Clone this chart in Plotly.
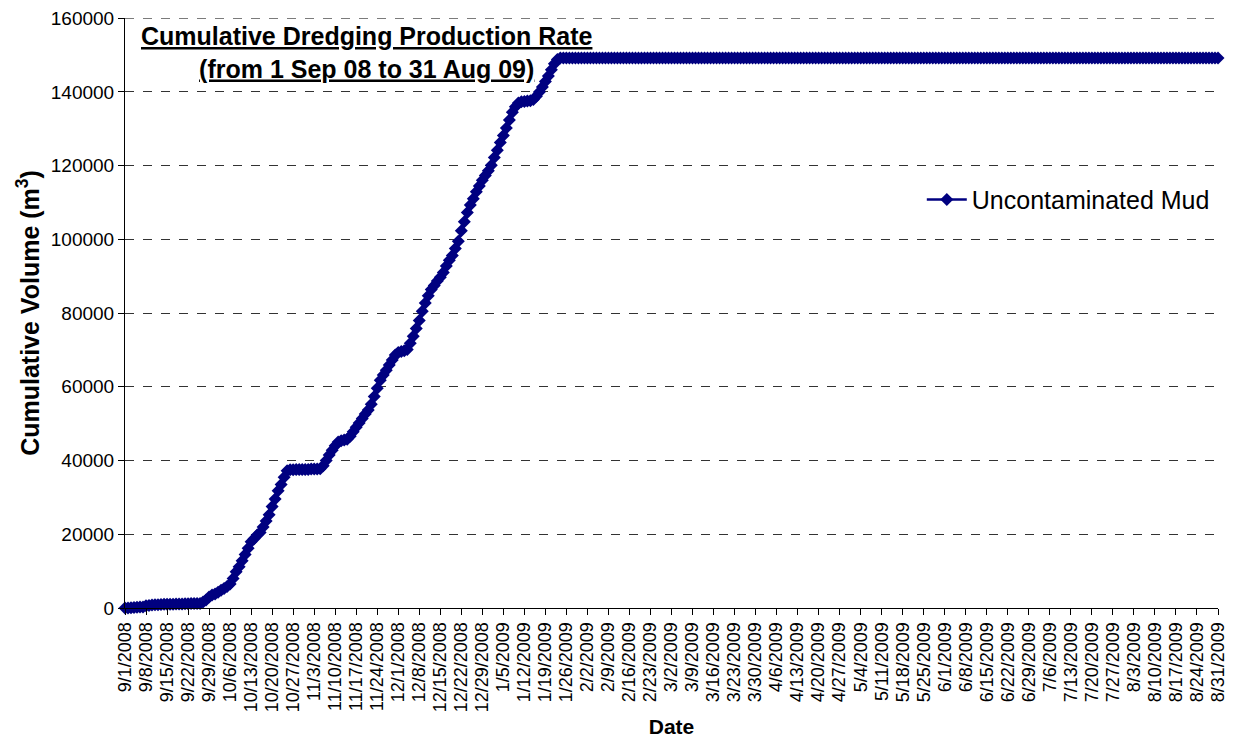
import pandas as pd
import plotly.graph_objects as go

# Daily dates, 1 Sep 2008 .. 31 Aug 2009
start_date = "2008-09-01"
end_date = "2009-08-31"

# Cumulative volume (m3), rising part (days 0..145)
rising_volume = [
    0, 0, 100, 150, 200, 250, 300,
    600, 700, 800, 850,
    900, 950, 1000, 1000, 1050, 1050, 1100, 1100, 1100, 1150, 1150, 1200, 1200, 1200, 1250,
    1600, 2200, 3000, 3500, 3800, 4300, 4800, 5300, 5800,
    6500, 8000, 9800, 11200, 12800, 14500, 16200, 18000, 18800, 19800,
    20500, 22000, 23600, 25300, 27500, 29600, 31800, 33500, 35500, 37200,
    37500, 37500, 37600, 37600, 37600, 37600, 37600, 37700, 37700, 37700, 37800,
    38600, 40000, 41500, 42800, 44000, 45000, 45400, 45600, 45800,
    46600, 47800, 49000, 50200, 51400, 52600, 53700, 55300, 57400, 59600,
    61800, 63200, 64500, 65900, 67300, 68600, 69300, 69600, 69800, 70100,
    71800, 73700, 75800, 78000, 80500, 82700, 84700, 86400, 87500, 88700,
    89700, 91000, 92800, 94300, 95600, 97500, 99500, 102300, 104800, 107300,
    109300, 111000, 112900, 114500, 116000, 117300, 118600, 120100, 122200, 124200,
    126300, 128200, 130200, 132400, 134500, 136000, 137000, 137300, 137400, 137500,
    137600, 137900, 138800, 140000, 141300, 142800, 144300, 146000, 147600, 148800,
    149200,
]
# Flat part after dredging finished (value read as constant)
plateau_volume = 149200

dates = pd.date_range(start_date, end_date, freq="D")
volume = rising_volume + [plateau_volume] * (len(dates) - len(rising_volume))

series_name = "Uncontaminated Mud"
title_line1 = "Cumulative Dredging Production Rate"
title_line2 = "(from 1 Sep 08 to 31 Aug 09)"
y_ticks = [0, 20000, 40000, 60000, 80000, 100000, 120000, 140000, 160000]

FONT = "Arial, 'Liberation Sans', sans-serif"
NAVY = "#000080"

fig = go.Figure()
fig.add_trace(go.Scatter(
    x=dates, y=volume, name=series_name, mode="lines+markers",
    line=dict(color=NAVY, width=2.5),
    marker=dict(symbol="diamond", size=10, color=NAVY),
    cliponaxis=False,
))

fig.update_layout(
    width=1226, height=730,
    margin=dict(l=117, r=16, t=10, b=130),
    paper_bgcolor="white", plot_bgcolor="white",
    font=dict(family=FONT, size=19, color="black"),
    showlegend=True,
    legend=dict(x=0.729, y=0.692, xanchor="left", yanchor="middle",
                font=dict(size=25, family=FONT, color="black"),
                bgcolor="rgba(0,0,0,0)", itemwidth=40),
    annotations=[dict(
        x=0.221, y=0.996, xref="paper", yref="paper", xanchor="center", yanchor="top",
        text=f"<b><u>{title_line1}</u></b><br><b><u>{title_line2}</u></b>",
        showarrow=False, align="center",
        font=dict(size=25, family=FONT, color="black"),
    )],
    shapes=[dict(
        type="line", xref="paper", x0=0, x1=1, yref="y", y0=y_ticks[-1], y1=y_ticks[-1],
        line=dict(color="#333333", width=1, dash="dash"), layer="below",
    )],
)

fig.update_xaxes(
    type="date", range=[start_date, end_date], automargin=False,
    tick0=start_date, dtick=7 * 86400000, tickformat="%-m/%-d/%Y",
    tickangle=-90, tickfont=dict(size=18, family=FONT),
    ticks="outside", ticklen=6, tickcolor="black",
    showline=True, linecolor="black", linewidth=1,
    showgrid=False, zeroline=False,
    title=dict(text="<b>Date</b>", font=dict(size=21, family=FONT), standoff=9),
)
fig.update_yaxes(
    range=[0, 160040], tickvals=y_ticks, ticktext=[str(v) for v in y_ticks],
    automargin=False, ticklabeloverflow="allow",
    tickfont=dict(size=19, family=FONT),
    ticks="outside", ticklen=6, tickcolor="black",
    showline=True, linecolor="black", linewidth=1,
    showgrid=True, gridcolor="#333333", griddash="dash", gridwidth=1,
    zeroline=False,
    title=dict(text="<b>Cumulative Volume (m<sup>3</sup>)</b>", font=dict(size=25, family=FONT), standoff=4),
)

fig.write_html("out.html")
